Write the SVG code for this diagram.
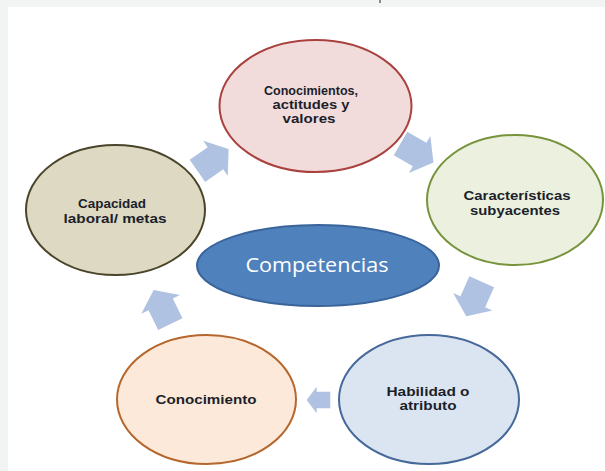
<svg xmlns="http://www.w3.org/2000/svg" xmlns:xlink="http://www.w3.org/1999/xlink" width="605" height="471" viewBox="0 0 605 471">
  <style>
    .lbl { font-family: "Liberation Sans", Arial, sans-serif; font-weight: bold; font-size: 12px; fill: #1c1f2b; text-anchor: middle; }
    .main { font-family: "Open Sans", "Liberation Sans", sans-serif; font-size: 20px; fill: #ffffff; text-anchor: middle; }
    .node { stroke-width: 2; }
    .arrow { fill: #afc2e1; }
  </style>
  <defs>
    <path id="arr" d="M-19,-13.5 L3,-13.5 L3,-21.5 L19,0 L3,21.5 L3,13.5 L-19,13.5 Z"/>
  </defs>
  <rect x="0" y="0" width="605" height="471" fill="#f2f3f3"/>
  <rect x="8" y="7" width="597" height="464" fill="#ffffff"/>
  <rect x="379" y="0" width="2" height="3" fill="#8a8a8a"/>

  <g id="connectors" class="arrow">
    <use xlink:href="#arr" transform="translate(213,160) rotate(-35)"/>
    <use xlink:href="#arr" transform="translate(417,153) rotate(30)"/>
    <use xlink:href="#arr" transform="translate(474,299) rotate(114)"/>
    <use xlink:href="#arr" transform="translate(318.5,400) rotate(180) scale(0.62)"/>
    <use xlink:href="#arr" transform="translate(162,307) rotate(-116)"/>
  </g>

  <g id="node-conocimientos-actitudes">
    <ellipse class="node" cx="315.5" cy="106" rx="96" ry="66" fill="#f2dcdb" stroke="#a9423f"/>
    <text class="lbl" x="311" y="95" textLength="94" lengthAdjust="spacingAndGlyphs">Conocimientos,</text>
    <text class="lbl" x="311" y="109" textLength="77" lengthAdjust="spacingAndGlyphs">actitudes y</text>
    <text class="lbl" x="309" y="123" textLength="53" lengthAdjust="spacingAndGlyphs">valores</text>
  </g>

  <g id="node-caracteristicas">
    <ellipse class="node" cx="515" cy="200" rx="88" ry="65" fill="#ebf1de" stroke="#77933c"/>
    <text class="lbl" x="517" y="200" font-size="13" textLength="107" lengthAdjust="spacingAndGlyphs">Características</text>
    <text class="lbl" x="515" y="215" font-size="13" textLength="90" lengthAdjust="spacingAndGlyphs">subyacentes</text>
  </g>

  <g id="node-capacidad">
    <ellipse class="node" cx="115.5" cy="210" rx="89.5" ry="65" fill="#ddd9c3" stroke="#4a452a"/>
    <text class="lbl" x="112" y="208" font-size="13" textLength="68" lengthAdjust="spacingAndGlyphs">Capacidad</text>
    <text class="lbl" x="115" y="223" font-size="13" textLength="103" lengthAdjust="spacingAndGlyphs">laboral/ metas</text>
  </g>

  <g id="node-competencias">
    <ellipse class="node" cx="318" cy="265.5" rx="121" ry="40.5" fill="#4f81bd" stroke="#3a649a"/>
    <text class="main" x="317" y="272" textLength="143" lengthAdjust="spacingAndGlyphs">Competencias</text>
  </g>

  <g id="node-habilidad">
    <ellipse class="node" cx="429" cy="399.5" rx="90" ry="64.5" fill="#dbe5f1" stroke="#46699a"/>
    <text class="lbl" x="428" y="396" textLength="83" lengthAdjust="spacingAndGlyphs">Habilidad o</text>
    <text class="lbl" x="428" y="410" textLength="57" lengthAdjust="spacingAndGlyphs">atributo</text>
  </g>

  <g id="node-conocimiento">
    <ellipse class="node" cx="206.5" cy="399.5" rx="89.5" ry="64.5" fill="#fde9d9" stroke="#b5672e"/>
    <text class="lbl" x="206" y="404" font-size="14" textLength="101" lengthAdjust="spacingAndGlyphs">Conocimiento</text>
  </g>
</svg>
